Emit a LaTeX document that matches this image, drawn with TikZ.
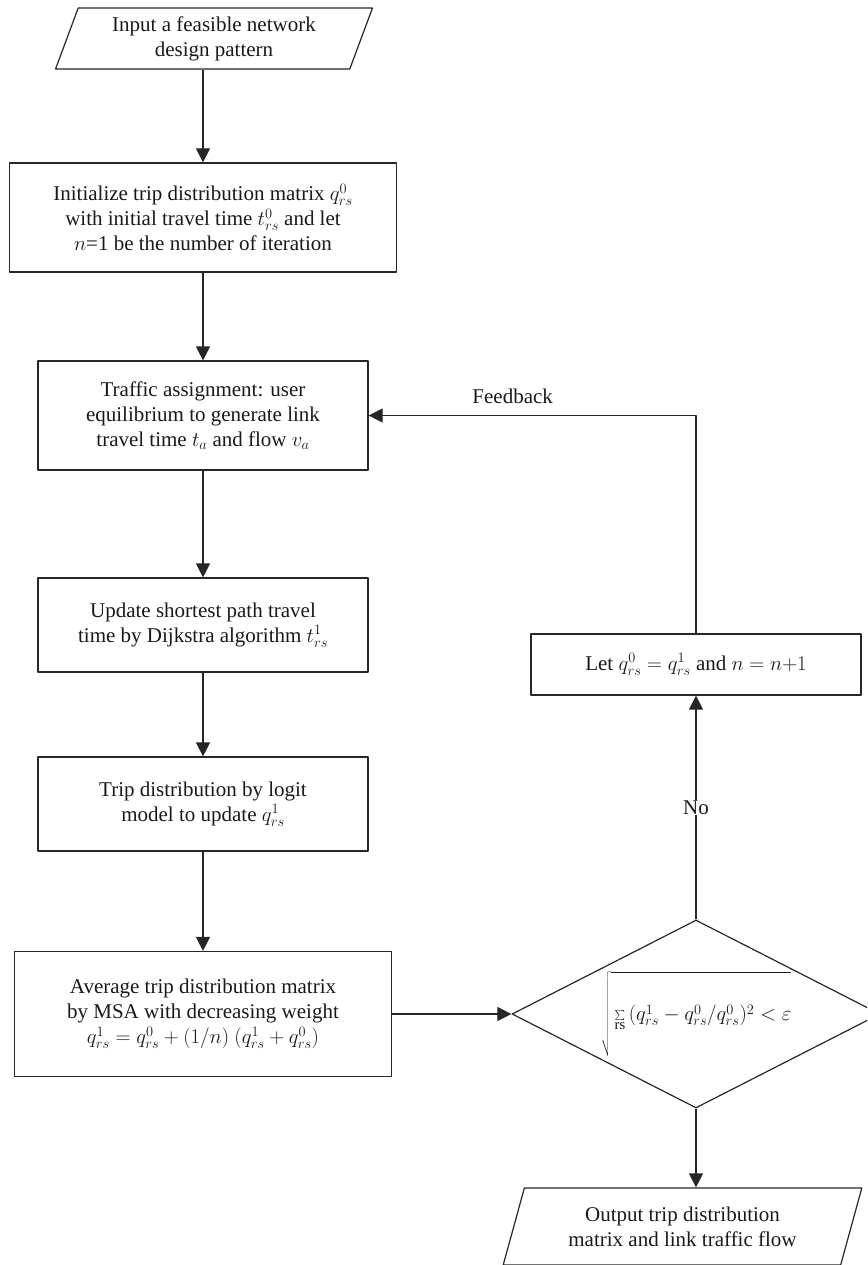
\documentclass[tikz,border=0pt]{standalone}
\usepackage{fontspec}
\setmainfont{Liberation Serif}
\usetikzlibrary{shapes.geometric,arrows.meta}
\begin{document}
\begin{tikzpicture}[>={Triangle[length=14pt,width=14pt]}, line join=round, x=1pt, y=-1pt,
	font=\fontsize{21}{25}\selectfont, every node/.style={text=black!90},
	box/.style={draw=black!85, line width=1.2pt, align=center, inner sep=0pt},
	io/.style={box, trapezium, trapezium left angle=69, trapezium right angle=111, trapezium stretches=true},
	test/.style={box, diamond, aspect=1.957},
	link/.style={->, draw=black!85, line width=1.2pt}]
	\clip (0,0) rectangle (867,1265);
	\node[io, minimum width=318pt, minimum height=61pt] (input) at (214,38.5) {Input a feasible network\\ design pattern};
	\node[box, minimum width=387pt, minimum height=109pt] (init) at (203,217.5) {Initialize trip distribution matrix $q^0_{rs}$\\ with initial travel time $t^0_{rs}$ and let\\ $n$=1 be the number of iteration};
	\node[box, minimum width=330pt, minimum height=109pt] (traffic) at (203,415.5) {Traffic assignment: user\\ equilibrium to generate link\\ travel time $t_a$ and flow $v_a$};
	\node[box, minimum width=330pt, minimum height=94pt] (update) at (203,625) {Update shortest path travel\\ time by Dijkstra algorithm $t^1_{rs}$};
	\node[box, minimum width=330pt, minimum height=94pt] (trip) at (203,804) {Trip distribution by logit\\ model to update $q^1_{rs}$};
	\node[box, minimum width=377pt, minimum height=125pt] (avg) at (203,1014) {Average trip distribution matrix\\ by MSA with decreasing weight\\ $q^1_{rs} = q^0_{rs} + (1/n)\ (q^1_{rs} + q^0_{rs})$};
	\node[test, minimum width=368pt, minimum height=188pt] (check) at (696,1014) {$\sqrt{\rule[-35pt]{0pt}{82pt}\sum\limits_{\mathrm{rs}}\,(q^1_{rs} - q^0_{rs}/q^0_{rs})^2 < \varepsilon}$};
	\node[box, minimum width=330pt, minimum height=61pt] (let) at (696,664.5) {Let $q^0_{rs} = q^1_{rs}$ and $n = n{+}1$};
	\node[io, minimum width=359pt, minimum height=77pt] (output) at (682.5,1226.5) {Output trip distribution\\ matrix and link traffic flow};
	% main column
	\draw[link] (input.south -| init.north) -- (init.north);
	\draw[link] (init) -- (traffic);
	\draw[link] (traffic) -- (update);
	\draw[link] (update) -- (trip);
	\draw[link] (trip) -- (avg);
	\draw[link] (avg) -- (check);
	% loop back
	\draw[link] (check) -- node[fill=white, inner sep=1pt]{No} (let);
	\draw[link] (let) |- node[pos=.78, above=8pt]{Feedback} (traffic);
	\draw[link] (check.south) -- (check.south |- output.north);
\end{tikzpicture}
\end{document}
